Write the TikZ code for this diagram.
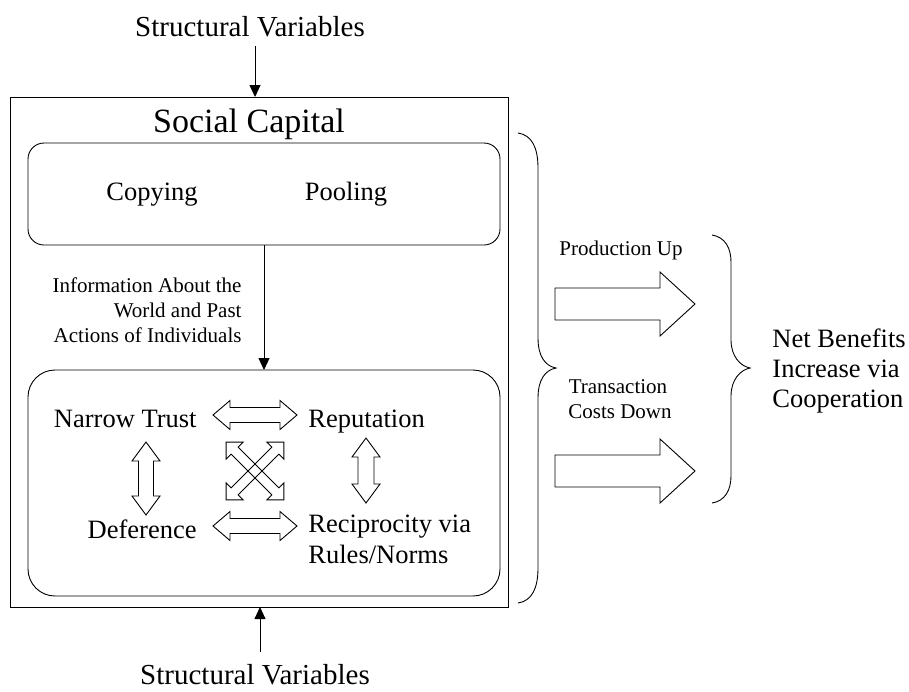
\documentclass[tikz,border=0pt]{standalone}
\usepackage{fontspec}
\setmainfont{Liberation Serif}
\usetikzlibrary{arrows.meta}

% outlined double-headed block arrow:
% #1 centre, #2 angle, #3 half length, #4 shaft half width, #5 head half width, #6 head length
\newcommand\dblarr[6]{%
  \draw[blk,shift={(#1)},rotate=#2]
    (-#3,0) -- (-#3+#6,#5) -- (-#3+#6,#4) -- (#3-#6,#4) -- (#3-#6,#5) -- (#3,0)
    -- (#3-#6,-#5) -- (#3-#6,-#4) -- (-#3+#6,-#4) -- (-#3+#6,-#5) -- cycle;}
% outlined single block arrow pointing right, #1 = centre line y
\newcommand\rblock[1]{%
  \draw[blk] (555,#1-16) -- (660,#1-16) -- (660,#1-32) -- (695,#1) -- (660,#1+32)
    -- (660,#1+16) -- (555,#1+16) -- cycle;}

\begin{document}
\begin{tikzpicture}[x=1pt,y=-1pt,line width=0.9pt,
  box/.style={draw,inner sep=0,outer sep=0},
  blk/.style={draw,line join=miter},
  lbl/.style={font=\fontsize{26.5}{30}\selectfont,inner sep=0},
  small/.style={font=\fontsize{21}{24}\selectfont,inner sep=0},
  title/.style={font=\fontsize{34}{38}\selectfont,inner sep=0},
  sv/.style={font=\fontsize{29}{32}\selectfont,inner sep=0},
  tip/.style={-{Triangle[length=12pt,width=11pt]}}]
\useasboundingbox (0,0) rectangle (909,691);

% boxes
\node[box,anchor=north west,minimum width=498pt,minimum height=510pt] (outer) at (10,97) {};
\node[box,rounded corners=16pt,anchor=north west,minimum width=472pt,minimum height=102pt] (top) at (28,143) {};
\node[box,rounded corners=27pt,anchor=north west,minimum width=472pt,minimum height=226pt] (bot) at (28,370) {};

% headings
\node[sv,anchor=base] (sv1) at (250,36) {Structural Variables};
\node[sv,anchor=base] (sv2) at (255,684) {Structural Variables};
\node[title,anchor=base] (sc) at (249,132) {Social Capital};

% inputs from structural variables
\coordinate (in1) at (255,46);
\coordinate (in2) at (260,652);
\draw[tip] (in1) -- (in1 |- outer.north);
\draw[tip] (in2) -- (in2 |- outer.south);

% top box
\node[lbl,anchor=base] (copy) at (152,200) {Copying};
\node[lbl,anchor=base] (pool) at (346,200) {Pooling};
\draw[tip] (top.south) -- (bot.north);
\node[small,anchor=base east] (info1) at (242,292) {Information About the};
\node[small,anchor=base east] (info2) at (242,317) {World and Past};
\node[small,anchor=base east] (info3) at (242,342) {Actions of Individuals};

% bottom box
\node[lbl,anchor=base east] (trust) at (197,427) {Narrow Trust};
\node[lbl,anchor=base east] (def) at (197,538) {Deference};
\node[lbl,anchor=base west] (rep) at (308,427) {Reputation};
\node[lbl,anchor=base west] (rec1) at (308,532) {Reciprocity via};
\node[lbl,anchor=base west] (rec2) at (308,563) {Rules/Norms};

\dblarr{255,415}{0}{42}{7.5}{14.5}{17}
\dblarr{255,526}{0}{42}{7.5}{14.5}{17}
\dblarr{146,478.5}{90}{36.5}{7.5}{14}{19}
\dblarr{366,470.5}{90}{32.5}{8}{14}{19}
\dblarr{255,471}{45}{40.8}{5}{12}{12}
\dblarr{255,471}{-45}{40.8}{5}{12}{12}

% braces
\draw (518,133) .. controls (532,135) and (538,148) .. (538,168) -- (538,338)
  .. controls (538,356) and (545,366) .. (556,368)
  .. controls (545,370) and (538,380) .. (538,398) -- (538,568)
  .. controls (538,588) and (532,601) .. (518,603);
\draw (712,235) .. controls (725,237) and (731,248) .. (731,262) -- (731,340)
  .. controls (731,356) and (740,366) .. (750,368)
  .. controls (740,370) and (731,380) .. (731,396) -- (731,476)
  .. controls (731,490) and (725,501) .. (712,503);

% outcomes
\node[small,anchor=base] (prod) at (621,255) {Production Up};
\rblock{304}
\node[small,anchor=base] (tc1) at (618,393) {Transaction};
\node[small,anchor=base] (tc2) at (620,418) {Costs Down};
\rblock{471}

\node[lbl,anchor=base west] (nb1) at (772,347) {Net Benefits};
\node[lbl,anchor=base west] (nb2) at (772,377) {Increase via};
\node[lbl,anchor=base west] (nb3) at (772,407) {Cooperation};
\end{tikzpicture}
\end{document}
